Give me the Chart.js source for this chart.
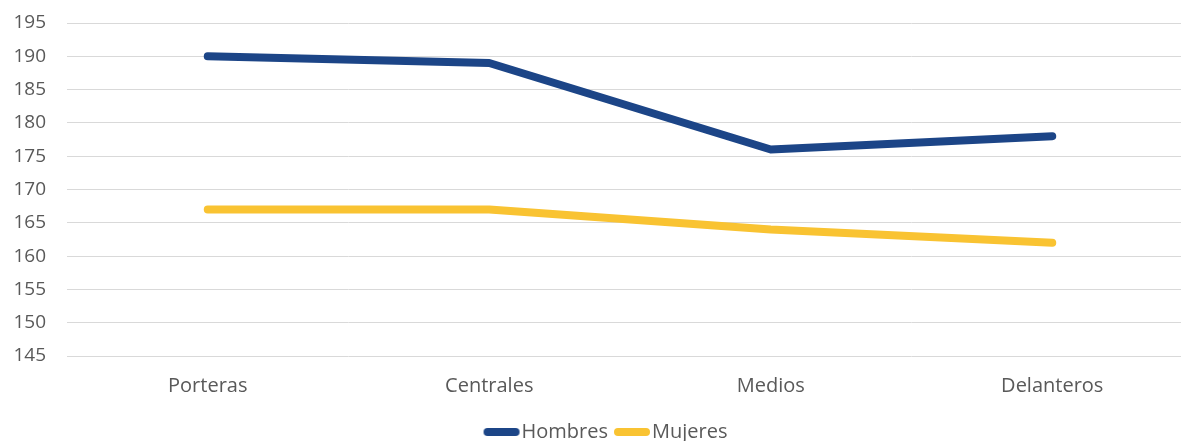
<!DOCTYPE html>
<html>
<head>
<meta charset="utf-8">
<script src="https://cdn.jsdelivr.net/npm/chart.js@4/dist/chart.umd.min.js"></script>
<style>
  html, body { margin: 0; padding: 0; background: #fff; overflow: hidden; }
  #wrap { width: 1212px; height: 441px; }
</style>
</head>
<body>
<div id="wrap"><canvas id="chart" width="1212" height="441"></canvas></div>
<script>
const categories = ['Porteras', 'Centrales', 'Medios', 'Delanteros'];
const hombres = [190, 189, 176, 178];
const mujeres = [167, 167, 164, 162];
const yMin = 145;
const yMax = 195;
const yStep = 5;

const blue = '#1c4587';
const yellow = '#f9c332';
const textColor = '#595959';
const family = '"Open Sans", "Noto Sans", sans-serif';

// legend swatch: thick rounded line that runs right up to the label text
function swatch(color) {
  const c = document.createElement('canvas');
  c.width = 48;
  c.height = 10;
  const g = c.getContext('2d');
  g.strokeStyle = color;
  g.lineWidth = 8;
  g.lineCap = 'round';
  g.beginPath();
  g.moveTo(14, 5);
  g.lineTo(42, 5);
  g.stroke();
  return c;
}
const swatches = [swatch(blue), swatch(yellow)];

// nudge the legend so it sits under the middle of the plot area
const legendShift = {
  id: 'legendShift',
  afterLayout(chart) {
    const lg = chart.legend;
    if (!lg) return;
    lg.left += 9;
    lg.right += 9;
  }
};

const ctx = document.getElementById('chart').getContext('2d');

new Chart(ctx, {
  type: 'line',
  data: {
    labels: categories,
    datasets: [
      {
        label: 'Hombres',
        data: hombres,
        borderColor: blue,
        backgroundColor: blue,
        borderWidth: 8,
        borderCapStyle: 'round',
        borderJoinStyle: 'round',
        pointRadius: 0,
        tension: 0,
      },
      {
        label: 'Mujeres',
        data: mujeres,
        borderColor: yellow,
        backgroundColor: yellow,
        borderWidth: 8,
        borderCapStyle: 'round',
        borderJoinStyle: 'round',
        pointRadius: 0,
        tension: 0,
      }
    ]
  },
  plugins: [legendShift],
  options: {
    responsive: false,
    animation: false,
    layout: {
      padding: { top: 23, right: 19, bottom: -11, left: 0 }
    },
    plugins: {
      legend: {
        display: true,
        position: 'bottom',
        labels: {
          color: textColor,
          font: { family, size: 20 },
          usePointStyle: true,
          pointStyleWidth: 28,
          padding: 6,
          generateLabels: (chart) => {
            const items = Chart.defaults.plugins.legend.labels.generateLabels(chart);
            items.forEach(item => { item.pointStyle = swatches[item.datasetIndex]; });
            return items;
          }
        }
      },
      tooltip: { enabled: false },
    },
    scales: {
      x: {
        offset: true,
        grid: { display: false, drawTicks: false, offset: true },
        border: { display: false },
        ticks: { color: textColor, font: { family, size: 20 }, padding: 18 },
      },
      y: {
        min: yMin,
        max: yMax,
        afterFit: (axis) => {
          axis.width = 67;
          axis.paddingTop = 0;
        },
        grid: { color: '#d9d9d9', lineWidth: 1, drawTicks: false },
        border: { display: false },
        ticks: { color: textColor, font: { family, size: 19 }, stepSize: yStep, padding: 21 },
      }
    }
  }
});
</script>
</body>
</html>
